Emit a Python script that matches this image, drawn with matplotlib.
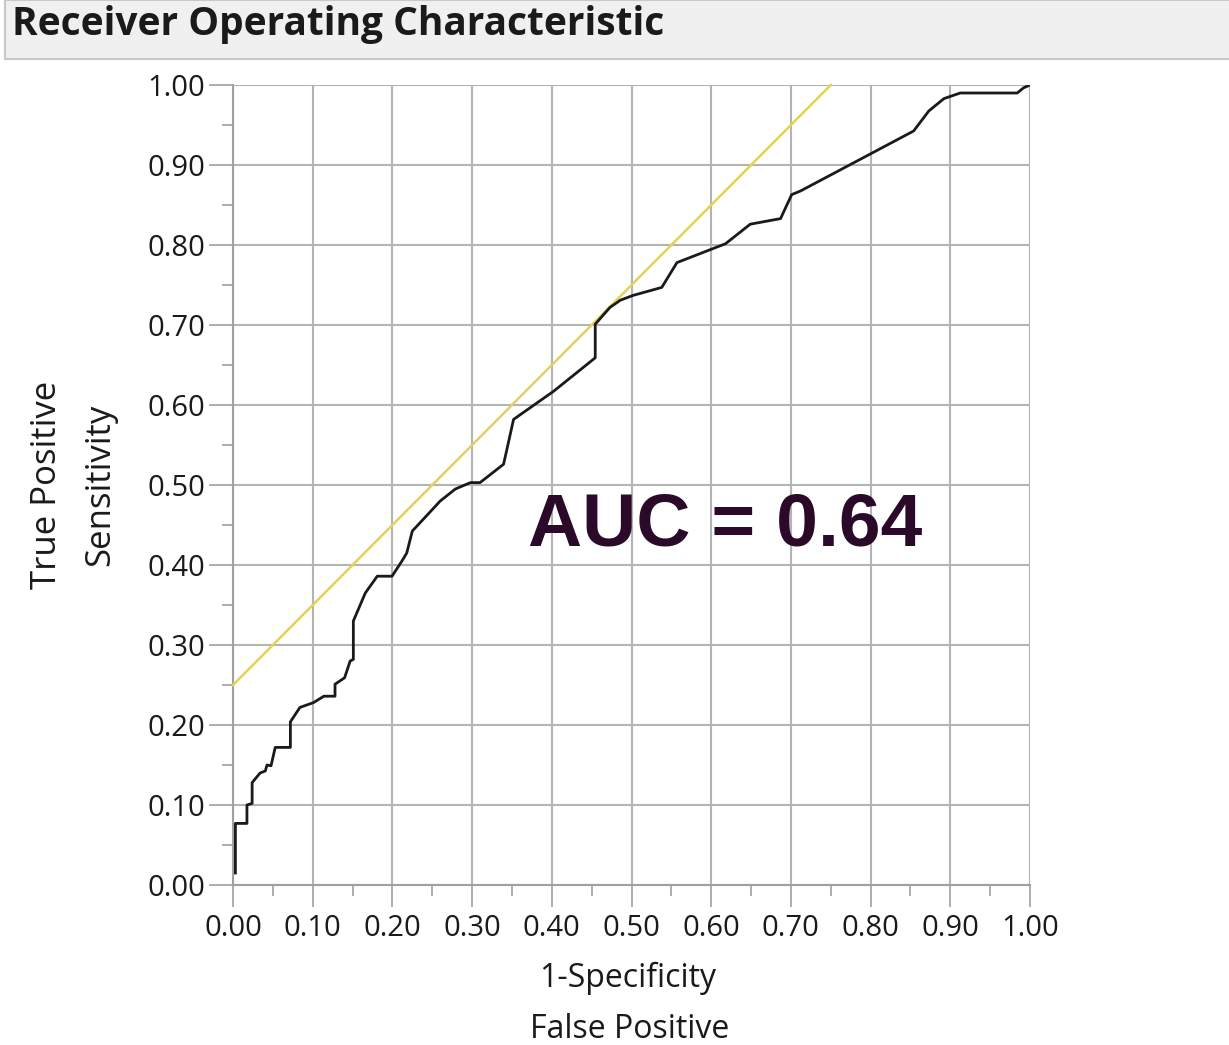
import matplotlib
matplotlib.use("Agg")
import matplotlib.pyplot as plt
from matplotlib.patches import Rectangle
from matplotlib.ticker import MultipleLocator, FormatStrFormatter

# ROC curve points (1-specificity, sensitivity)
fpr = [0.003, 0.003, 0.0175, 0.0175, 0.024, 0.024, 0.034, 0.0405, 0.0427, 0.0477,
       0.053, 0.072, 0.072, 0.084, 0.101, 0.114, 0.128, 0.128, 0.140, 0.147,
       0.151, 0.151, 0.166, 0.181, 0.1995, 0.212, 0.218, 0.225, 0.233, 0.260,
       0.279, 0.298, 0.310, 0.3395, 0.346, 0.352, 0.402, 0.4545, 0.4545, 0.473,
       0.486, 0.502, 0.538, 0.557, 0.618, 0.649, 0.687, 0.701, 0.712, 0.854,
       0.873, 0.892, 0.9125, 0.984, 0.992, 1.0]
tpr = [0.015, 0.077, 0.077, 0.100, 0.102, 0.128, 0.140, 0.1425, 0.150, 0.149,
       0.172, 0.172, 0.204, 0.222, 0.228, 0.236, 0.236, 0.251, 0.259, 0.280,
       0.282, 0.330, 0.365, 0.386, 0.386, 0.405, 0.415, 0.4425, 0.451, 0.480,
       0.495, 0.503, 0.503, 0.526, 0.555, 0.582, 0.617, 0.659, 0.701, 0.722,
       0.731, 0.737, 0.747, 0.778, 0.8016, 0.826, 0.833, 0.863, 0.8675, 0.9425,
       0.9675, 0.983, 0.990, 0.990, 0.9965, 1.0]

# tangent reference line (slope 1)
ref_x = [0.0, 0.75]
ref_y = [0.25, 1.0]

auc = 0.64

W, H = 1229, 1045
fig = plt.figure(figsize=(W / 100, H / 100), dpi=100)
font = "Open Sans"

# header bar
fig.patches.append(Rectangle((5 / W, 1 - 59 / H), 1, 59 / H, transform=fig.transFigure,
                             facecolor="#f0f0f0", edgecolor="#c8c8c8", linewidth=1.5))
fig.text(12 / W, 1 - 25 / H, "Receiver Operating Characteristic", family=font,
         fontweight="bold", fontsize=28, color="#1a1a1a", va="center", ha="left")

ax = fig.add_axes([233 / W, 1 - 885 / H, 797 / W, 800 / H])
ax.set_xlim(0, 1)
ax.set_ylim(0, 1)

ax.plot(ref_x, ref_y, color="#ddd55a", lw=1.8, zorder=3, clip_on=False)
ax.plot(fpr, tpr, color="#1a1a1a", lw=2.0, zorder=4)

ax.text(725 / W, 1 - 526 / H, f"AUC = {auc:.2f}", transform=fig.transFigure,
        family="Liberation Sans", fontweight="bold", fontsize=54, color="#2a0a28",
        ha="center", va="center", zorder=5)

ax.xaxis.set_major_locator(MultipleLocator(0.1))
ax.xaxis.set_minor_locator(MultipleLocator(0.05))
ax.yaxis.set_major_locator(MultipleLocator(0.1))
ax.yaxis.set_minor_locator(MultipleLocator(0.05))
ax.xaxis.set_major_formatter(FormatStrFormatter("%.2f"))
ax.yaxis.set_major_formatter(FormatStrFormatter("%.2f"))

ax.grid(True, which="major", color="#b4b4b4", lw=1.5)
ax.set_axisbelow(True)
for side in ["top", "right"]:
    ax.spines[side].set_visible(False)
for side in ["left", "bottom"]:
    ax.spines[side].set_color("#a0a0a0")
    ax.spines[side].set_linewidth(1.5)

ax.tick_params(which="major", length=16, width=1.2, color="#a0a0a0",
               labelsize=21, labelcolor="#1a1a1a", pad=5)
ax.tick_params(which="minor", length=8, width=1.2, color="#a0a0a0")
ax.tick_params(axis="y", which="major", length=17, pad=3)
for lab in ax.get_xticklabels() + ax.get_yticklabels():
    lab.set_family(font)

fig.text(628 / W, 1 - 978 / H, "1-Specificity", family=font, fontsize=23,
         color="#1a1a1a", ha="center", va="center")
fig.text(630 / W, 1 - 1029 / H, "False Positive", family=font, fontsize=23,
         color="#1a1a1a", ha="center", va="center")
fig.text(47 / W, 1 - 485 / H, "True Positive", family=font, fontsize=25,
         color="#1a1a1a", ha="center", va="center", rotation=90)
fig.text(100 / W, 1 - 485 / H, "Sensitivity", family=font, fontsize=25,
         color="#1a1a1a", ha="center", va="center", rotation=90)

fig.savefig("out.png", dpi=100, facecolor="white")
